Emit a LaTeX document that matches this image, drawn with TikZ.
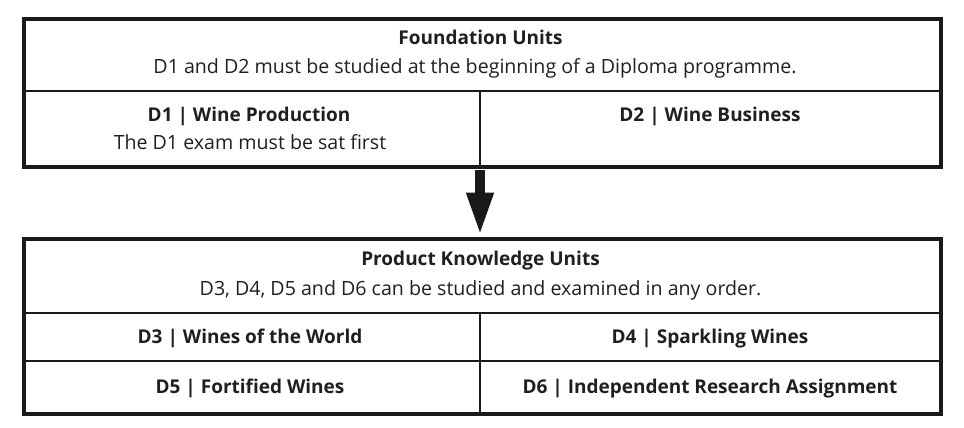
\documentclass[tikz,border=0pt]{standalone}
\usepackage{fontspec}
\setmainfont{Open Sans}[Ligatures=NoCommon]
\usetikzlibrary{arrows.meta}
\begin{document}
\begin{tikzpicture}[x=1pt,y=-1pt,
  box/.style={draw=black!90,line width=3.6pt,rectangle,inner sep=0pt,anchor=north west},
  div/.style={draw=black!90,line width=1.5pt},
  ttl/.style={font=\fontsize{19}{22}\selectfont\bfseries,text=black!88,inner sep=0pt,anchor=base},
  sub/.style={font=\fontsize{19.6}{22}\selectfont,text=black!88,inner sep=0pt,anchor=base},
  bigarrow/.style={draw=black!90,line width=10pt,-{Triangle[width=25pt,length=43pt]}}]
\useasboundingbox (0,0) rectangle (964,428);
% boxes
\node[box,minimum width=917pt,minimum height=148pt] (top) at (22,17) {};
\node[box,minimum width=917pt,minimum height=175pt] (bot) at (22,237) {};
% dividers
\coordinate (tl) at (22,91); \coordinate (tr) at (939,91);
\coordinate (tm) at (480,91);
\draw[div] (tl) -- (tr);
\draw[div] (tm) -- (top.south -| tm);
\coordinate (bl1) at (22,313); \coordinate (br1) at (939,313);
\coordinate (bl2) at (22,361); \coordinate (br2) at (939,361);
\coordinate (bm) at (480,313);
\draw[div] (bl1) -- (br1);
\draw[div] (bl2) -- (br2);
\draw[div] (bm) -- (bot.south -| bm);
% texts
\node[ttl] (ft) at (480.5,45) {Foundation Units};
\node[sub] (fs) at (475,74) {D1 and D2 must be studied at the beginning of a Diploma programme.};
\node[ttl] (d1) at (249,121.5) {D1 | Wine Production};
\node[sub] (d1s) at (250,149.5) {The D1 exam must be sat first};
\node[ttl] (d2) at (710,121.5) {D2 | Wine Business};
\node[ttl] (pt) at (480.5,265) {Product Knowledge Units};
\node[sub] (ps) at (480.5,295) {D3, D4, D5 and D6 can be studied and examined in any order.};
\node[ttl] (d3) at (250,343) {D3 | Wines of the World};
\node[ttl] (d4) at (710,343) {D4 | Sparkling Wines};
\node[ttl] (d5) at (250,393) {D5 | Fortified Wines};
\node[ttl] (d6) at (710,393) {D6 | Independent Research Assignment};
% arrow
\draw[bigarrow,shorten <=1.8pt,shorten >=1.5pt] (top.south -| tm) -- (bot.north -| tm);
\end{tikzpicture}
\end{document}
